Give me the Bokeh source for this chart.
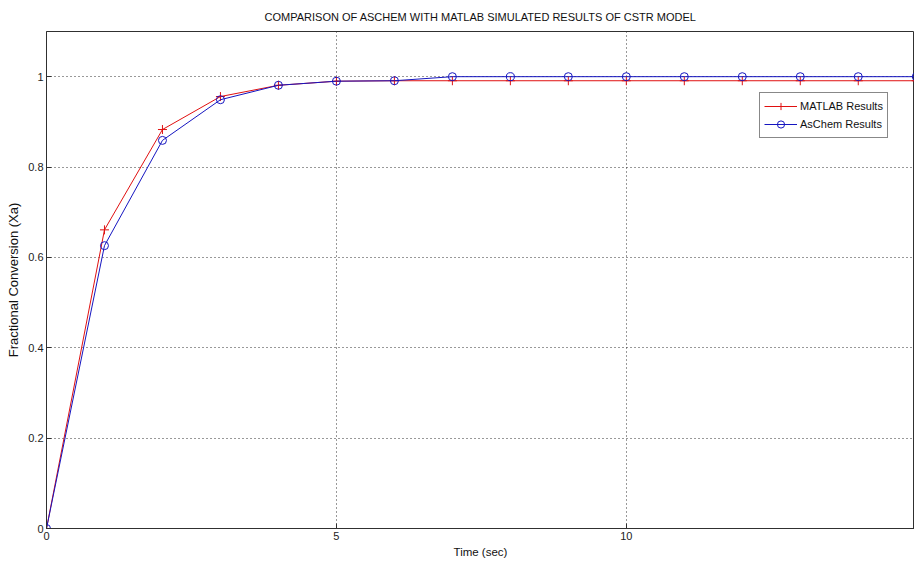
from bokeh.plotting import figure
from bokeh.models import Range1d, FixedTicker
from bokeh.embed import file_html
from bokeh.resources import INLINE

time_sec = [0, 1, 2, 3, 4, 5, 6, 7, 8, 9, 10, 11, 12, 13, 14, 15]
matlab_results = [0, 0.661, 0.883, 0.956, 0.981, 0.990, 0.991, 0.991, 0.991,
                  0.991, 0.991, 0.991, 0.991, 0.991, 0.991, 0.991]
aschem_results = [0, 0.626, 0.859, 0.949, 0.981, 0.990, 0.991, 1.0, 1.0,
                  1.0, 1.0, 1.0, 1.0, 1.0, 1.0, 1.0]
x_ticks = [0, 5, 10, 15]
y_ticks = [0, 0.2, 0.4, 0.6, 0.8, 1]
y_labels = {0: "0", 0.2: "0.2", 0.4: "0.4", 0.6: "0.6", 0.8: "0.8", 1: "1"}

FONT = "Liberation Sans"

p = figure(width=914, height=563, output_backend="svg", toolbar_location=None,
           x_range=Range1d(0, 14.97), y_range=Range1d(0, 1.1),
           min_border_left=46, min_border_right=0, min_border_top=31,
           min_border_bottom=35)
p.background_fill_color = "white"
p.border_fill_color = "white"
p.outline_line_color = "#303030"
p.outline_line_width = 1

p.title.text = "COMPARISON OF ASCHEM WITH MATLAB SIMULATED RESULTS OF CSTR MODEL"
p.title.align = "center"
p.title.vertical_align = "top"
p.title.text_font = FONT
p.title.text_font_size = "11px"
p.title.text_font_style = "normal"
p.title.text_color = "#111111"
p.title.standoff = 14
p.title.offset = 0

for ax in (p.xaxis[0], p.yaxis[0]):
    ax.major_tick_in = 5
    ax.major_tick_out = 0
    ax.minor_tick_line_color = None
    ax.axis_line_color = "#303030"
    ax.major_tick_line_color = "#303030"
    ax.major_label_text_font = FONT
    ax.major_label_text_font_size = "11px"
    ax.major_label_text_color = "#222222"
    ax.axis_label_text_font = FONT
    ax.axis_label_text_font_style = "normal"
    ax.axis_label_text_color = "#111111"

p.xaxis[0].axis_label_text_font_size = "11.5px"
p.yaxis[0].axis_label_text_font_size = "13px"
p.xaxis[0].ticker = FixedTicker(ticks=x_ticks)
p.yaxis[0].ticker = FixedTicker(ticks=y_ticks)
p.yaxis[0].major_label_overrides = y_labels
p.xaxis[0].axis_label = "Time (sec)"
p.yaxis[0].axis_label = "Fractional Conversion (Xa)"
p.xaxis[0].major_label_standoff = 3
p.xaxis[0].axis_label_standoff = 3
p.yaxis[0].major_label_standoff = 3
p.yaxis[0].axis_label_standoff = 4

p.xgrid.ticker = FixedTicker(ticks=x_ticks)
p.ygrid.ticker = FixedTicker(ticks=y_ticks)
for g in (p.xgrid[0], p.ygrid[0]):
    g.grid_line_color = "#333333"
    g.grid_line_dash = "1 3"
    g.grid_line_width = 1

red = "#e01010"
blue = "#1515c0"
p.line(time_sec, matlab_results, line_color=red, line_width=1, legend_label="MATLAB Results")
p.scatter(time_sec, matlab_results, marker="cross", size=9, line_color=red, line_width=1,
          legend_label="MATLAB Results")
p.line(time_sec, aschem_results, line_color=blue, line_width=1, legend_label="AsChem Results")
p.scatter(time_sec, aschem_results, marker="circle", size=8, fill_color=None,
          line_color=blue, line_width=1, legend_label="AsChem Results")

lg = p.legend[0]
lg.location = (713, 390)
lg.border_line_color = "#111111"
lg.border_line_width = 1
lg.background_fill_color = "white"
lg.background_fill_alpha = 1
lg.label_text_font = FONT
lg.label_text_font_size = "11px"
lg.label_text_color = "#111111"
lg.glyph_width = 33
lg.glyph_height = 18
lg.label_height = 18
lg.label_standoff = 3
lg.padding = 4
lg.spacing = 0
lg.margin = 0

open("out.html", "w").write(file_html(p, INLINE))
